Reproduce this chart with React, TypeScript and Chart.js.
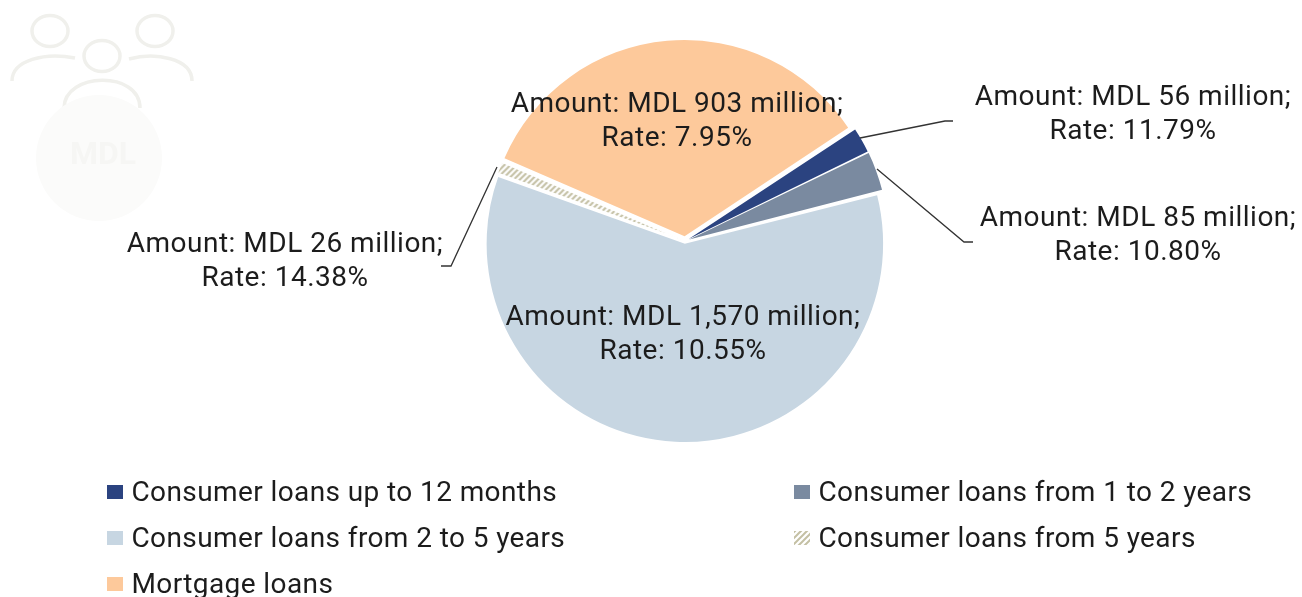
import React, { useEffect, useRef } from "react";
import { Chart, registerables } from "chart.js";

Chart.register(...registerables);

const categories = [
  "Consumer loans up to 12 months",
  "Consumer loans from 1 to 2 years",
  "Consumer loans from 2 to 5 years",
  "Consumer loans from 5 years",
  "Mortgage loans",
];
const amounts = [56, 85, 1570, 26, 903];
const amountLabels = ["56", "85", "1,570", "26", "903"];
const rates = ["11.79", "10.80", "10.55", "14.38", "7.95"];
const colors = ["#2b4380", "#7a8aa0", "#c7d6e2", "hatch", "#fdc99b"];
const offsets = [17, 18, 11, 8, 19];
const borders = [0, 0, 0, 1.2, 0];
const FONT = '28px Roboto, "Liberation Sans", sans-serif';
const TEXT = "#1c1c1c";

// label centre (x, first line y) and leader points (from the slice edge outward)
const labelPos = [
  { x: 1133, y: 98 },
  { x: 1138, y: 219 },
  { x: 683, y: 318 },
  { x: 285, y: 245 },
  { x: 677, y: 105 },
];
const leaders: (number[][] | null)[] = [
  [[860, 138], [945, 121], [953, 121]],
  [[877, 169], [964, 242], [973, 242]],
  null,
  [[497, 167], [451, 266], [441, 266]],
  null,
];
const legendPos = [
  { x: 107, y: 492 },
  { x: 794, y: 492 },
  { x: 107, y: 538 },
  { x: 794, y: 538 },
  { x: 107, y: 584 },
];

function makeHatch(ctx: CanvasRenderingContext2D) {
  const c = document.createElement("canvas");
  c.width = 6;
  c.height = 6;
  const p = c.getContext("2d")!;
  p.fillStyle = "#ffffff";
  p.fillRect(0, 0, 6, 6);
  p.strokeStyle = "#c4c0a4";
  p.lineWidth = 2;
  p.beginPath();
  p.moveTo(-1, 7);
  p.lineTo(7, -1);
  p.moveTo(-1, 1);
  p.lineTo(1, -1);
  p.moveTo(5, 7);
  p.lineTo(7, 5);
  p.stroke();
  return ctx.createPattern(c, "repeat")!;
}

function drawIcon(ctx: CanvasRenderingContext2D) {
  ctx.save();
  ctx.strokeStyle = "#f0f0ec";
  ctx.lineWidth = 3.5;
  const head = (x: number, y: number) => {
    ctx.beginPath();
    ctx.ellipse(x, y, 18, 15.5, 0, 0, Math.PI * 2);
    ctx.stroke();
  };
  head(50, 31);
  head(155, 31);
  head(102, 56);
  ctx.beginPath();
  ctx.moveTo(12, 81);
  ctx.bezierCurveTo(12, 60, 45, 52, 75, 58);
  ctx.moveTo(129, 59);
  ctx.bezierCurveTo(155, 52, 192, 58, 192, 81);
  ctx.moveTo(64, 108);
  ctx.bezierCurveTo(64, 72, 140, 70, 140, 108);
  ctx.stroke();
  ctx.fillStyle = "#fbfbfa";
  ctx.beginPath();
  ctx.arc(99, 158, 63, 0, Math.PI * 2);
  ctx.fill();
  ctx.font = "bold 32px Roboto, sans-serif";
  ctx.textAlign = "center";
  ctx.textBaseline = "middle";
  ctx.fillStyle = "#f6f6f4";
  ctx.fillText("MDL", 103, 156);
  ctx.restore();
}

const annotations = {
  id: "annotations",
  beforeDatasetsDraw(chart: Chart) {
    drawIcon(chart.ctx);
  },
  afterDatasetsDraw(chart: Chart) {
    const ctx = chart.ctx as any;
    ctx.save();
    ctx.strokeStyle = "#333333";
    ctx.lineWidth = 1.3;
    leaders.forEach((pts) => {
      if (!pts) return;
      ctx.beginPath();
      pts.forEach(([x, y], i) => (i ? ctx.lineTo(x, y) : ctx.moveTo(x, y)));
      ctx.stroke();
    });
    ctx.font = FONT;
    ctx.letterSpacing = "0.5px";
    ctx.fillStyle = TEXT;
    ctx.textAlign = "center";
    ctx.textBaseline = "middle";
    categories.forEach((_, i) => {
      const p = labelPos[i];
      ctx.fillText(`Amount: MDL ${amountLabels[i]} million;`, p.x, p.y);
      ctx.fillText(`Rate: ${rates[i]}%`, p.x, p.y + 34);
    });
    ctx.textAlign = "left";
    ctx.letterSpacing = "0.4px";
    const bg = chart.data.datasets[0].backgroundColor as any[];
    categories.forEach((name, i) => {
      const p = legendPos[i];
      ctx.fillStyle = bg[i];
      ctx.fillRect(p.x, p.y - 7, 16, 14);
      ctx.fillStyle = TEXT;
      ctx.fillText(name, p.x + 24.5, p.y + 2);
    });
    ctx.restore();
  },
};

export default function App() {
  const ref = useRef<HTMLCanvasElement>(null);
  useEffect(() => {
    const canvas = ref.current!;
    const ctx = canvas.getContext("2d")!;
    const hatch = makeHatch(ctx);
    const chart = new Chart(ctx, {
      type: "pie",
      data: {
        labels: categories,
        datasets: [
          {
            data: amounts,
            backgroundColor: colors.map((c) => (c === "hatch" ? hatch : c)),
            borderWidth: borders,
            borderColor: "#ffffff",
            offset: offsets,
            radius: 195.5,
          } as any,
        ],
      },
      options: {
        responsive: false,
        animation: false,
        rotation: 56.5,
        layout: { padding: { left: 468, right: 1302 - 902, top: 24, bottom: 597 - 458 } },
        plugins: { legend: { display: false }, tooltip: { enabled: false } },
      },
      plugins: [annotations],
    });
    return () => chart.destroy();
  }, []);
  return (
    <div style={{ position: "absolute", left: 0, top: 0, width: 1302, height: 597, background: "#fff" }}>
      <canvas ref={ref} width={1302} height={597} style={{ display: "block", filter: "blur(0.4px)" }} />
    </div>
  );
}
